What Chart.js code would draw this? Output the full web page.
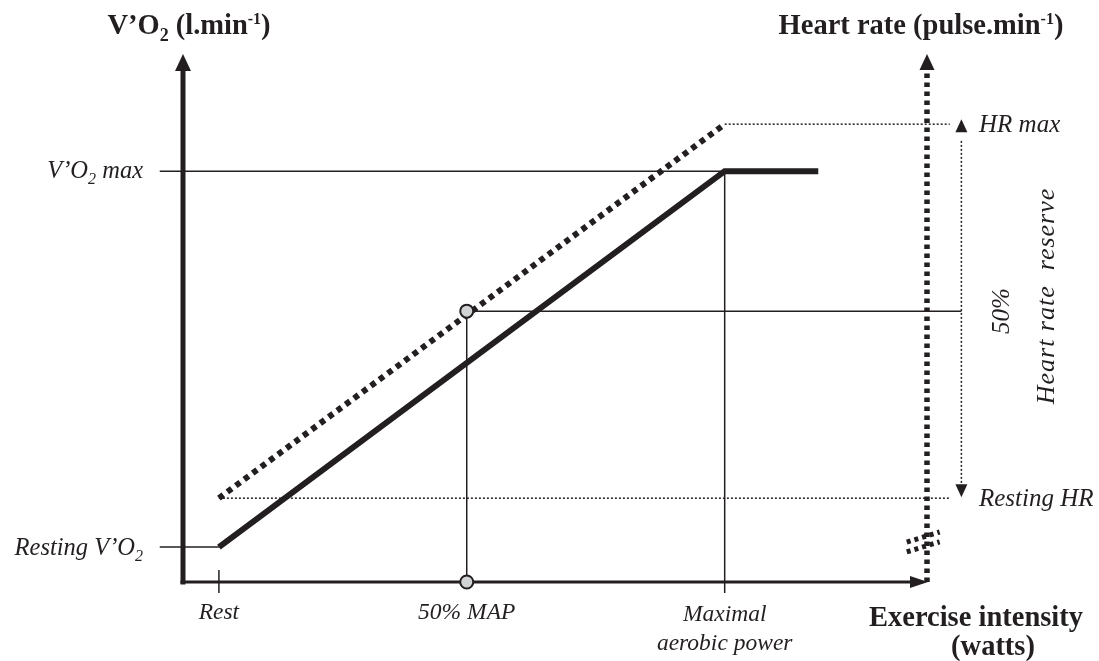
<!DOCTYPE html>
<html>
<head>
<meta charset="utf-8">
<script src="https://cdn.jsdelivr.net/npm/chart.js@4.4.1/dist/chart.umd.min.js"></script>
<style>
  html, body { margin: 0; padding: 0; background: #fff; }
  #wrap { width: 1099px; height: 661px; }
</style>
</head>
<body>
<div id="wrap"><canvas id="chart"></canvas></div>
<script>
// exercise intensity, % of maximal aerobic power
const intensityTicks = [0, 49, 100];
const intensityLabels = ['Rest', '50% MAP', ['Maximal', 'aerobic power']];
// V'O2 as % of the resting -> max range
const vo2X = [0, 100, 118.5];
const vo2Y = [0, 100, 100];
// heart rate drawn on the same vertical scale
const hrX = [0, 100];
const hrY = [13, 112.5];
const reserveX = 146.8;   // heart rate reserve arrow
const hrGuideEnd = 144.5; // end of the dotted HR guides
const guideStart = -11.7; // left end of the V'O2 guides
const tickBottom = -12.2;

const INK = '#231f20';
const SERIF = '"Liberation Serif", "DejaVu Serif", serif';
const xMin = -7.1, xMax = 140, yMin = -9.3, yMax = 130.9;
const hrMid = (hrY[0] + hrY[1]) / 2;

function pts(xs, ys) {
    return xs.map((x, i) => ({ x: x, y: ys[i] }));
}

function thin(data, dashed) {
    return {
        data: data,
        showLine: true,
        borderColor: INK,
        borderWidth: 1.5,
        borderDash: dashed ? [2, 2] : [],
        pointRadius: 0,
        clip: false
    };
}

function rich(ctx, parts, x, y, align) {
    let w = 0;
    parts.forEach(p => { ctx.font = p.font; w += ctx.measureText(p.t).width; });
    let cx = align === 'center' ? x - w / 2 : (align === 'right' ? x - w : x);
    ctx.textAlign = 'left';
    parts.forEach(p => {
        ctx.font = p.font;
        ctx.fillText(p.t, cx, y + (p.dy || 0));
        cx += ctx.measureText(p.t).width;
    });
}

function arrowHead(ctx, tx, ty, dir, len, half) {
    ctx.beginPath();
    if (dir === 'up') {
        ctx.moveTo(tx, ty); ctx.lineTo(tx - half, ty + len); ctx.lineTo(tx + half, ty + len);
    } else if (dir === 'down') {
        ctx.moveTo(tx, ty); ctx.lineTo(tx - half, ty - len); ctx.lineTo(tx + half, ty - len);
    } else {
        ctx.moveTo(tx, ty); ctx.lineTo(tx - len, ty - half); ctx.lineTo(tx - len, ty + half);
    }
    ctx.closePath();
    ctx.fill();
}

const axesPlugin = {
    id: 'axes',
    beforeDatasetsDraw(chart) {
        const { ctx, chartArea: a } = chart;
        ctx.save();
        ctx.strokeStyle = INK;
        ctx.fillStyle = INK;
        // left V'O2 axis
        ctx.lineWidth = 5;
        ctx.beginPath();
        ctx.moveTo(a.left, a.bottom + 2.5);
        ctx.lineTo(a.left, a.top + 14);
        ctx.stroke();
        arrowHead(ctx, a.left, a.top - 1, 'up', 17, 8);
        // bottom intensity axis
        ctx.lineWidth = 3;
        ctx.beginPath();
        ctx.moveTo(a.left - 2.5, a.bottom);
        ctx.lineTo(a.right - 14, a.bottom);
        ctx.stroke();
        arrowHead(ctx, a.right + 1, a.bottom, 'right', 18, 6);
        // right heart rate axis (dotted)
        ctx.lineWidth = 5.5;
        ctx.setLineDash([4.5, 4.5]);
        ctx.beginPath();
        ctx.moveTo(a.right, a.bottom);
        ctx.lineTo(a.right, a.top + 14);
        ctx.stroke();
        ctx.setLineDash([]);
        arrowHead(ctx, a.right, a.top - 1, 'up', 16, 7.5);
        ctx.restore();
    },
    afterDatasetsDraw(chart) {
        const { ctx, scales: { x, y } } = chart;
        ctx.save();
        ctx.fillStyle = INK;
        ctx.textBaseline = 'alphabetic';
        const bold = s => 'bold ' + s + 'px ' + SERIF;
        const ital = s => 'italic ' + s + 'px ' + SERIF;

        // reserve arrow heads
        const rx = x.getPixelForValue(reserveX);
        arrowHead(ctx, rx, y.getPixelForValue(hrY[1]) - 5, 'up', 13, 6);
        arrowHead(ctx, rx, y.getPixelForValue(hrY[0]) - 1, 'down', 13, 6);

        // axis titles
        rich(ctx, [
            { t: 'V\u2019O', font: bold(28.5) },
            { t: '2', font: bold(18), dy: 7 },
            { t: ' (l.min', font: bold(28.5) },
            { t: '-1', font: bold(16), dy: -10 },
            { t: ')', font: bold(28.5) }
        ], 189, 34, 'center');
        rich(ctx, [
            { t: 'Heart rate (pulse.min', font: bold(28.5) },
            { t: '-1', font: bold(16), dy: -10 },
            { t: ')', font: bold(28.5) }
        ], 921, 34, 'center');
        ctx.font = bold(28.5);
        ctx.textAlign = 'center';
        ctx.fillText('Exercise intensity', 976, 626);
        ctx.fillText('(watts)', 993, 655);

        // V'O2 labels
        rich(ctx, [
            { t: 'V\u2019O', font: ital(24.5) },
            { t: '2', font: ital(16), dy: 6 },
            { t: ' max', font: ital(24.5) }
        ], 143, y.getPixelForValue(vo2Y[1]) + 7, 'right');
        rich(ctx, [
            { t: 'Resting V\u2019O', font: ital(24.5) },
            { t: '2', font: ital(16), dy: 6 }
        ], 143, y.getPixelForValue(vo2Y[0]) + 8, 'right');

        // intensity labels
        ctx.font = ital(23.5);
        ctx.textAlign = 'center';
        intensityTicks.forEach((v, i) => {
            const lbl = intensityLabels[i];
            const px = x.getPixelForValue(v);
            if (Array.isArray(lbl)) {
                lbl.forEach((line, j) => ctx.fillText(line, px, 621 + j * 29));
            } else {
                ctx.fillText(lbl, px, 619);
            }
        });

        // heart rate labels
        ctx.font = ital(25);
        ctx.textAlign = 'left';
        ctx.fillText('HR max', 979, y.getPixelForValue(hrY[1]) + 8);
        ctx.fillText('Resting HR', 979, y.getPixelForValue(hrY[0]) + 8);

        ctx.save();
        ctx.translate(1002, y.getPixelForValue(hrMid));
        ctx.rotate(-Math.PI / 2);
        ctx.textAlign = 'center';
        ctx.textBaseline = 'middle';
        ctx.fillText('50%', 0, 0);
        ctx.restore();
        ctx.save();
        ctx.font = ital(26);
        ctx.letterSpacing = '1px';
        ctx.translate(1047, 296);
        ctx.rotate(-Math.PI / 2);
        ctx.textAlign = 'center';
        ctx.textBaseline = 'middle';
        ctx.fillText('Heart rate  reserve', 0, 0);
        ctx.restore();

        ctx.restore();
    }
};

const breakStyle = { borderWidth: 5, borderDash: [4, 4] };

new Chart(document.getElementById('chart'), {
    type: 'scatter',
    data: {
        datasets: [
            {
                data: [{ x: intensityTicks[1], y: hrMid }, { x: intensityTicks[1], y: yMin }, { x: reserveX, y: hrMid }],
                pointRadius: 6.5,
                pointBackgroundColor: '#d1d3d4',
                pointBorderColor: INK,
                pointBorderWidth: 2,
                clip: false
            },
            {
                data: pts(vo2X, vo2Y),
                showLine: true,
                borderColor: INK,
                borderWidth: 6,
                pointRadius: 0,
                clip: false
            },
            {
                data: pts(hrX, hrY),
                showLine: true,
                borderColor: INK,
                borderWidth: 6,
                borderDash: [5.5, 5],
                pointRadius: 0,
                clip: false
            },
            thin([{ x: guideStart, y: vo2Y[1] }, { x: vo2X[1], y: vo2Y[1] }]),
            thin([{ x: guideStart, y: vo2Y[0] }, { x: vo2X[0], y: vo2Y[0] }]),
            thin([{ x: intensityTicks[2], y: vo2Y[1] }, { x: intensityTicks[2], y: tickBottom }]),
            thin([{ x: intensityTicks[0], y: -6.1 }, { x: intensityTicks[0], y: tickBottom }]),
            thin([{ x: intensityTicks[1], y: hrMid }, { x: intensityTicks[1], y: yMin }]),
            thin([{ x: intensityTicks[1], y: hrMid }, { x: reserveX, y: hrMid }]),
            thin([{ x: hrX[1], y: hrY[1] }, { x: hrGuideEnd, y: hrY[1] }], true),
            thin([{ x: hrX[0], y: hrY[0] }, { x: hrGuideEnd, y: hrY[0] }], true),
            thin([{ x: reserveX, y: hrY[0] + 3 }, { x: reserveX, y: hrY[1] - 4 }], true),
            // axis break marks
            Object.assign(thin([{ x: 136, y: 1.3 }, { x: 142.5, y: 4 }]), breakStyle),
            Object.assign(thin([{ x: 136, y: -1.3 }, { x: 142.5, y: 1.4 }]), breakStyle)
        ]
    },
    options: {
        responsive: true,
        maintainAspectRatio: false,
        animation: false,
        events: [],
        layout: { autoPadding: false, padding: { left: 183, right: 172, top: 55, bottom: 79 } },
        scales: {
            x: { type: 'linear', min: xMin, max: xMax, display: false },
            y: { type: 'linear', min: yMin, max: yMax, display: false }
        },
        plugins: { legend: { display: false }, tooltip: { enabled: false } }
    },
    plugins: [axesPlugin]
});
</script>
</body>
</html>
